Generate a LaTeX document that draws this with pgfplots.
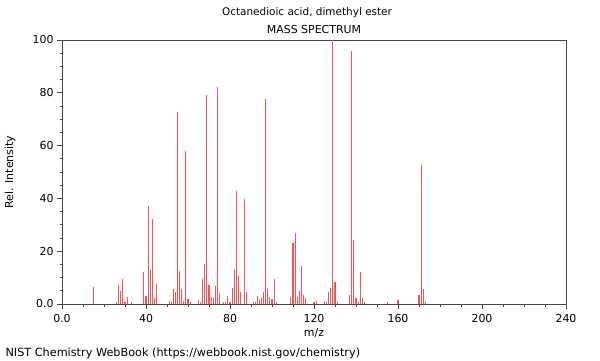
\documentclass[border=0pt]{standalone}
\usepackage{pgfplots}
\pgfplotsset{compat=1.18}
\usepackage{fontspec}
\setmainfont{DejaVu Sans}
\definecolor{peak}{RGB}{255,80,80}
\definecolor{axisgray}{RGB}{70,70,70}
\pgfplotstableread{
mz int
15 6.4
26 0.8
27 7.1
28 4.9
29 9.3
30 0.8
31 2.6
33 0.8
39 12.2
40 3.0
41 37.1
42 12.9
43 32.2
44 2.1
45 7.6
51 1.1
52 0.6
53 5.7
54 4.7
55 72.6
56 12.5
57 5.7
58 1.1
59 58.0
60 1.8
61 0.6
65 1.4
66 0.9
67 9.5
68 15.0
69 79.2
70 7.2
71 2.5
72 2.1
73 6.9
74 82.3
75 4.2
77 0.9
78 0.6
79 3.2
80 0.9
81 6.2
82 13.3
83 42.8
84 10.6
85 4.7
87 39.8
88 4.4
91 0.6
92 0.6
93 3.0
94 1.4
95 2.1
96 4.4
97 77.7
98 5.7
99 2.7
100 2.0
101 9.5
102 0.9
109 2.7
110 23.1
111 26.9
112 2.7
113 4.9
114 14.4
115 3.4
116 2.4
120 0.9
121 1.1
125 1.2
126 0.6
127 4.5
128 6.2
129 100
130 8.2
131 0.6
137 3.4
138 95.8
139 24.4
140 2.4
141 0.9
142 12.0
143 2.4
144 0.9
155 0.6
160 1.5
170 3.4
171 52.6
172 5.7
173 0.9
}\spectrum
\begin{document}
\begin{tikzpicture}[x=1bp,y=1bp]
\path[use as bounding box] (0,0) rectangle (600,360);
\begin{axis}[
  scale only axis,
  width=504bp, height=264bp,
  at={(62bp,56bp)}, anchor=south west,
  xmin=0, xmax=240, ymin=0, ymax=100,
  xtick={0,40,...,240},
  xticklabels={0.0,40,80,120,160,200,240},
  ytick={0,20,...,100},
  yticklabels={0.0,20,40,60,80,100},
  minor x tick num=3,
  minor y tick num=3,
  xtick pos=bottom, ytick pos=left,
  tick align=outside,
  major tick length=5bp,
  minor tick length=2.5bp,
  axis line style={axisgray, line width=0.8bp},
  every tick/.style={axisgray, line width=0.7bp},
  tick label style={font=\fontsize{11}{13}\selectfont, text=black},
  xticklabel style={yshift=-2bp},
  xlabel={m/z},
  ylabel={Rel. Intensity},
  label style={font=\fontsize{11}{13}\selectfont},
  xlabel style={at={(rel axis cs:0.5,-0.11)}, anchor=center},
  ylabel style={at={(rel axis cs:-0.103,0.5)}, anchor=center},
  clip=false,
]
\addplot[ycomb, draw=peak, line width=1.1bp, no markers] table[x=mz,y=int] {\spectrum};
\end{axis}
\node[font=\fontsize{10.5}{12}\selectfont] at (307,347) {Octanedioic acid, dimethyl ester};
\node[font=\fontsize{11}{13}\selectfont] at (314,330) {MASS SPECTRUM};
\node[font=\fontsize{11.3}{13}\selectfont, anchor=west] at (2,7) {NIST Chemistry WebBook (https://webbook.nist.gov/chemistry)};
\end{tikzpicture}
\end{document}
